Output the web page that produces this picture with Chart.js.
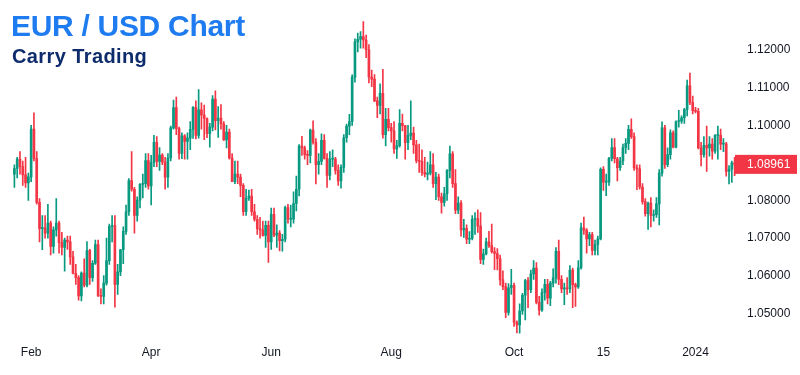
<!DOCTYPE html>
<html>
<head>
<meta charset="utf-8">
<script src="https://cdn.jsdelivr.net/npm/chart.js@4.4.0/dist/chart.umd.min.js"></script>
<style>
  html, body { margin: 0; padding: 0; background: #fff; }
  #wrap { position: relative; width: 800px; height: 375px; }
  #title { position: absolute; left: 11px; top: 11px; font: bold 30px/30px "Liberation Sans", Arial, sans-serif; color: #1e7cf0; letter-spacing: -0.3px; white-space: nowrap; }
  #subtitle { position: absolute; left: 12px; top: 46px; font: bold 20px/20px "Liberation Sans", Arial, sans-serif; color: #0e2c6c; letter-spacing: 0.4px; white-space: nowrap; }
</style>
</head>
<body>
<div id="wrap">
  <canvas id="chart" width="800" height="375"></canvas>
  <div id="title">EUR / USD Chart</div>
  <div id="subtitle">Carry Trading</div>
</div>
<script>
// daily EUR/USD candles, first bar 2023-01-24, weekdays only
const startDate = '2023-01-24';

const opens = [
  1.0870,1.0885,1.0910,1.0890,1.0868,1.0847,1.0863,1.0990,1.0912,1.0795,
  1.0725,1.0727,1.0713,1.0740,1.0678,1.0722,1.0740,1.0688,1.0675,1.0695,
  1.0690,1.0650,1.0606,1.0595,1.0546,1.0607,1.0575,1.0667,1.0595,1.0633,
  1.0683,1.0546,1.0545,1.0580,1.0640,1.0731,1.0733,1.0577,1.0610,1.0669,
  1.0718,1.0770,1.0853,1.0830,1.0760,1.0801,1.0843,1.0845,1.0906,1.0839,
  1.0901,1.0955,1.0904,1.0921,1.0902,1.0862,1.0913,1.0993,1.1047,1.0991,
  1.0925,1.0972,1.0957,1.0966,1.0989,1.1048,1.0973,1.1041,1.1027,1.1018,
  1.0978,1.0995,1.1070,1.1012,1.1019,1.1004,1.0961,1.0982,1.0913,1.0850,
  1.0870,1.0862,1.0840,1.0770,1.0806,1.0812,1.0770,1.0750,1.0725,1.0722,
  1.0707,1.0734,1.0690,1.0763,1.0708,1.0713,1.0693,1.0697,1.0781,1.0750,
  1.0750,1.0792,1.0830,1.0945,1.0940,1.0922,1.0920,1.0987,1.0955,1.0895,
  1.0904,1.0960,1.0912,1.0867,1.0910,1.0910,1.0880,1.0852,1.0888,1.0967,
  1.0998,1.1010,1.1128,1.1222,1.1229,1.1236,1.1227,1.1201,1.1128,1.1123,
  1.1065,1.1053,1.1085,1.0975,1.1016,1.0994,1.0985,1.0937,1.0946,1.1005,
  1.0999,1.0954,1.0973,1.0979,1.0948,1.0906,1.0904,1.0875,1.0870,1.0873,
  1.0895,1.0845,1.0862,1.0810,1.0795,1.0818,1.0880,1.0924,1.0845,1.0774,
  1.0793,1.0722,1.0726,1.0697,1.0699,1.0750,1.0752,1.0732,1.0643,1.0658,
  1.0690,1.0680,1.0664,1.0659,1.0645,1.0589,1.0571,1.0502,1.0568,1.0574,
  1.0476,1.0469,1.0506,1.0548,1.0587,1.0563,1.0605,1.0620,1.0529,1.0508,
  1.0555,1.0577,1.0540,1.0580,1.0594,1.0665,1.0590,1.0565,1.0566,1.0565,
  1.0615,1.0576,1.0570,1.0621,1.0727,1.0721,1.0698,1.0709,1.0667,1.0683,
  1.0698,1.0883,1.0849,1.0849,1.0912,1.0941,1.0911,1.0887,1.0905,1.0941,
  1.0952,1.0989,1.0970,1.0887,1.0884,1.0836,1.0797,1.0765,1.0793,1.0760,
  1.0762,1.0791,1.0873,1.0993,1.0895,1.0922,1.0980,1.0942,1.1010,1.1011,
  1.1020,1.1042,1.1105,1.1061,1.1039,1.1037,1.0940,1.0922,1.0947,1.0940,
  1.0950,1.0931,1.0973,1.0973,1.0950,1.0951,1.0877,1.0883,1.0900
];
const highs = [
  1.0895,1.0915,1.0930,1.0905,1.0915,1.0873,1.1000,1.1033,1.0930,1.0805,
  1.0760,1.0760,1.0790,1.0745,1.0730,1.0805,1.0745,1.0715,1.0700,1.0705,
  1.0705,1.0665,1.0630,1.0600,1.0610,1.0645,1.0691,1.0670,1.0640,1.0695,
  1.0695,1.0565,1.0600,1.0700,1.0737,1.0760,1.0760,1.0630,1.0670,1.0730,
  1.0788,1.0858,1.0930,1.0835,1.0810,1.0845,1.0870,1.0925,1.0925,1.0920,
  1.0973,1.0970,1.0941,1.0925,1.0915,1.0925,1.0998,1.1067,1.1075,1.0995,
  1.0980,1.0975,1.0980,1.1010,1.1050,1.1065,1.1095,1.1060,1.1054,1.1020,
  1.1005,1.1079,1.1092,1.1050,1.1055,1.1010,1.1000,1.0990,1.0925,1.0905,
  1.0905,1.0870,1.0845,1.0830,1.0828,1.0830,1.0790,1.0760,1.0755,1.0745,
  1.0745,1.0745,1.0780,1.0780,1.0735,1.0720,1.0710,1.0785,1.0790,1.0788,
  1.0823,1.0865,1.0949,1.0971,1.0945,1.0933,1.0990,1.1012,1.0965,1.0925,
  1.0977,1.0975,1.0925,1.0930,1.0935,1.0915,1.0895,1.0895,1.0975,1.1003,
  1.1029,1.1134,1.1230,1.1245,1.1249,1.1276,1.1240,1.1215,1.1147,1.1135,
  1.1075,1.1110,1.1149,1.1045,1.1045,1.1005,1.1010,1.0960,1.1042,1.1030,
  1.1000,1.1000,1.1065,1.0995,1.0960,1.0950,1.0935,1.0915,1.0902,1.0930,
  1.0925,1.0875,1.0870,1.0820,1.0835,1.0882,1.0945,1.0930,1.0882,1.0810,
  1.0800,1.0750,1.0735,1.0717,1.0760,1.0768,1.0775,1.0768,1.0671,1.0700,
  1.0718,1.0737,1.0675,1.0672,1.0655,1.0613,1.0580,1.0579,1.0617,1.0580,
  1.0480,1.0525,1.0553,1.0590,1.0595,1.0615,1.0640,1.0635,1.0545,1.0565,
  1.0590,1.0590,1.0585,1.0618,1.0675,1.0695,1.0600,1.0580,1.0595,1.0627,
  1.0620,1.0580,1.0640,1.0740,1.0756,1.0725,1.0715,1.0715,1.0695,1.0705,
  1.0887,1.0890,1.0870,1.0915,1.0965,1.0965,1.0915,1.0915,1.0950,1.0965,
  1.1000,1.1017,1.0980,1.0895,1.0895,1.0845,1.0805,1.0796,1.0808,1.0775,
  1.0808,1.0882,1.1009,1.1000,1.0940,1.0988,1.0985,1.1012,1.1040,1.1025,
  1.1045,1.1120,1.1139,1.1078,1.1048,1.1045,1.0955,1.0970,1.0998,1.0970,
  1.0965,1.0975,1.0998,1.0990,1.0965,1.0955,1.0893,1.0905,1.0915
];
const lows = [
  1.0835,1.0860,1.0870,1.0840,1.0835,1.0800,1.0850,1.0905,1.0790,1.0690,
  1.0669,1.0700,1.0700,1.0655,1.0660,1.0705,1.0660,1.0655,1.0612,1.0670,
  1.0630,1.0605,1.0577,1.0535,1.0533,1.0570,1.0570,1.0577,1.0585,1.0630,
  1.0545,1.0525,1.0525,1.0575,1.0630,1.0690,1.0516,1.0550,1.0600,1.0632,
  1.0710,1.0760,1.0825,1.0713,1.0745,1.0780,1.0807,1.0835,1.0830,1.0788,
  1.0890,1.0890,1.0880,1.0895,1.0830,1.0835,1.0905,1.0990,1.0975,1.0910,
  1.0911,1.0910,1.0910,1.0935,1.0965,1.0964,1.0966,1.0990,1.0962,1.0967,
  1.0942,1.0985,1.0988,1.0968,1.0990,1.0960,1.0940,1.0910,1.0850,1.0845,
  1.0845,1.0810,1.0760,1.0760,1.0800,1.0760,1.0745,1.0710,1.0700,1.0705,
  1.0675,1.0635,1.0670,1.0704,1.0675,1.0666,1.0665,1.0690,1.0740,1.0730,
  1.0740,1.0772,1.0812,1.0920,1.0910,1.0895,1.0900,1.0950,1.0844,1.0870,
  1.0895,1.0910,1.0835,1.0855,1.0890,1.0870,1.0840,1.0833,1.0875,1.0955,
  1.0975,1.1000,1.1115,1.1195,1.1205,1.1205,1.1180,1.1113,1.1103,1.1063,
  1.1020,1.1030,1.0966,1.0945,1.0985,1.0955,1.0925,1.0912,1.0942,1.0985,
  1.0910,1.0935,1.0962,1.0925,1.0900,1.0875,1.0867,1.0863,1.0855,1.0868,
  1.0835,1.0802,1.0800,1.0766,1.0785,1.0800,1.0860,1.0835,1.0765,1.0765,
  1.0705,1.0702,1.0685,1.0685,1.0695,1.0710,1.0715,1.0632,1.0630,1.0655,
  1.0675,1.0660,1.0616,1.0615,1.0575,1.0563,1.0488,1.0495,1.0550,1.0465,
  1.0448,1.0447,1.0497,1.0482,1.0515,1.0555,1.0590,1.0525,1.0495,1.0505,
  1.0535,1.0525,1.0520,1.0570,1.0580,1.0576,1.0555,1.0523,1.0550,1.0555,
  1.0515,1.0518,1.0566,1.0617,1.0710,1.0660,1.0680,1.0655,1.0655,1.0655,
  1.0695,1.0827,1.0813,1.0840,1.0905,1.0900,1.0852,1.0880,1.0895,1.0925,
  1.0935,1.0965,1.0880,1.0829,1.0830,1.0790,1.0758,1.0723,1.0730,1.0745,
  1.0755,1.0735,1.0865,1.0885,1.0890,1.0910,1.0940,1.0940,1.0995,1.1005,
  1.1005,1.1025,1.1055,1.1030,1.1033,1.0937,1.0892,1.0915,1.0877,1.0918,
  1.0910,1.0925,1.0910,1.0935,1.0930,1.0865,1.0844,1.0848,1.0866
];
const closes = [
  1.0885,1.0910,1.0890,1.0868,1.0847,1.0863,1.0990,1.0912,1.0795,1.0725,
  1.0727,1.0713,1.0740,1.0678,1.0722,1.0740,1.0688,1.0675,1.0695,1.0690,
  1.0650,1.0606,1.0595,1.0546,1.0607,1.0575,1.0667,1.0595,1.0633,1.0683,
  1.0546,1.0545,1.0580,1.0640,1.0731,1.0733,1.0577,1.0610,1.0669,1.0718,
  1.0770,1.0853,1.0830,1.0760,1.0801,1.0843,1.0845,1.0906,1.0839,1.0901,
  1.0955,1.0904,1.0921,1.0902,1.0862,1.0913,1.0993,1.1047,1.0991,1.0925,
  1.0972,1.0957,1.0966,1.0989,1.1048,1.0973,1.1041,1.1027,1.1018,1.0978,
  1.0995,1.1070,1.1012,1.1019,1.1004,1.0961,1.0982,1.0913,1.0850,1.0870,
  1.0862,1.0840,1.0770,1.0806,1.0812,1.0770,1.0750,1.0725,1.0722,1.0707,
  1.0734,1.0690,1.0763,1.0708,1.0713,1.0693,1.0697,1.0781,1.0750,1.0750,
  1.0792,1.0830,1.0945,1.0940,1.0922,1.0920,1.0987,1.0955,1.0895,1.0904,
  1.0960,1.0912,1.0867,1.0910,1.0910,1.0880,1.0852,1.0888,1.0967,1.0998,
  1.1010,1.1128,1.1222,1.1229,1.1236,1.1227,1.1201,1.1128,1.1123,1.1065,
  1.1053,1.1085,1.0975,1.1016,1.0994,1.0985,1.0937,1.0946,1.1005,1.0999,
  1.0954,1.0973,1.0979,1.0948,1.0906,1.0904,1.0875,1.0870,1.0873,1.0895,
  1.0845,1.0862,1.0810,1.0795,1.0818,1.0880,1.0924,1.0845,1.0774,1.0793,
  1.0722,1.0726,1.0697,1.0699,1.0750,1.0752,1.0732,1.0643,1.0658,1.0690,
  1.0680,1.0664,1.0659,1.0645,1.0589,1.0571,1.0502,1.0568,1.0574,1.0476,
  1.0469,1.0506,1.0548,1.0587,1.0563,1.0605,1.0620,1.0529,1.0508,1.0555,
  1.0577,1.0540,1.0580,1.0594,1.0665,1.0590,1.0565,1.0566,1.0565,1.0615,
  1.0576,1.0570,1.0621,1.0727,1.0721,1.0698,1.0709,1.0667,1.0683,1.0698,
  1.0883,1.0849,1.0849,1.0912,1.0941,1.0911,1.0887,1.0905,1.0941,1.0952,
  1.0989,1.0970,1.0887,1.0884,1.0836,1.0797,1.0765,1.0793,1.0760,1.0762,
  1.0791,1.0873,1.0993,1.0895,1.0922,1.0980,1.0942,1.1010,1.1011,1.1020,
  1.1042,1.1105,1.1061,1.1039,1.1037,1.0940,1.0922,1.0947,1.0940,1.0950,
  1.0931,1.0973,1.0973,1.0950,1.0951,1.0877,1.0883,1.0900,1.08961
];

// x axis labels and the bars they sit under
const tickDates = ['2023-02-01', '2023-04-03', '2023-06-01', '2023-08-01', '2023-10-02', '2023-11-15', '2024-01-01'];
const tickLabels = ['Feb', 'Apr', 'Jun', 'Aug', 'Oct', '15', '2024'];
// price axis
const yTickValues = [1.05, 1.06, 1.07, 1.08, 1.10, 1.11, 1.12];
const yMin = 1.04422;
const yMax = 1.12849;

const UP = '#089981';
const DOWN = '#f23645';
const FONT = '"Liberation Sans", Arial, sans-serif';

// trading days (weekdays) as category labels
const dates = [];
let d = new Date(startDate + 'T00:00:00Z');
while (dates.length < closes.length) {
  const wd = d.getUTCDay();
  if (wd !== 0 && wd !== 6) dates.push(d.toISOString().slice(0, 10));
  d.setUTCDate(d.getUTCDate() + 1);
}

const colors = closes.map((c, i) => (c >= opens[i] ? UP : DOWN));

// last price tag on the right axis
const priceTag = {
  id: 'priceTag',
  afterDraw(chart) {
    const { ctx, chartArea, scales } = chart;
    const n = closes.length - 1;
    const py = scales.y.getPixelForValue(closes[n]);
    ctx.save();
    ctx.fillStyle = colors[n];
    ctx.fillRect(chartArea.right - 1, py - 9.5, 62, 19);
    ctx.fillStyle = '#ffffff';
    ctx.font = '12px ' + FONT;
    ctx.textAlign = 'left';
    ctx.textBaseline = 'middle';
    ctx.fillText(closes[n].toFixed(5), chartArea.right + 11, py);
    ctx.restore();
  }
};

const ctx = document.getElementById('chart').getContext('2d');
new Chart(ctx, {
  type: 'bar',
  data: {
    labels: dates,
    datasets: [
      {
        // wicks
        data: lows.map((l, i) => [l, highs[i]]),
        backgroundColor: colors,
        barThickness: 1,
        grouped: false,
        order: 2
      },
      {
        // bodies
        data: opens.map((o, i) => [o, closes[i]]),
        backgroundColor: colors,
        barThickness: 2,
        minBarLength: 1,
        grouped: false,
        order: 1
      }
    ]
  },
  options: {
    responsive: false,
    animation: false,
    layout: { padding: { left: 13, top: 10, right: 0, bottom: 0 } },
    plugins: {
      legend: { display: false },
      tooltip: { enabled: false }
    },
    scales: {
      x: {
        type: 'category',
        offset: true,
        grid: { display: false, drawTicks: false },
        border: { display: false },
        ticks: {
          autoSkip: false,
          maxRotation: 0,
          padding: 10,
          color: '#131722',
          font: (c) => ({
            family: FONT,
            size: 12,
            weight: dates[c.index] === '2024-01-01' ? 'bold' : 'normal'
          }),
          callback: (v, i) => {
            const k = tickDates.indexOf(dates[i]);
            return k >= 0 ? tickLabels[k] : null;
          }
        },
        afterFit: (s) => { s.height = 40; }
      },
      y: {
        position: 'right',
        min: yMin,
        max: yMax,
        grid: { display: false, drawTicks: false },
        border: { display: false },
        ticks: {
          padding: 11,
          color: '#131722',
          font: { family: FONT, size: 12 },
          callback: (v) => Number(v).toFixed(5)
        },
        afterBuildTicks: (s) => { s.ticks = yTickValues.map((v) => ({ value: v })); },
        afterFit: (s) => { s.width = 64; }
      }
    }
  },
  plugins: [priceTag]
});
</script>
</body>
</html>
